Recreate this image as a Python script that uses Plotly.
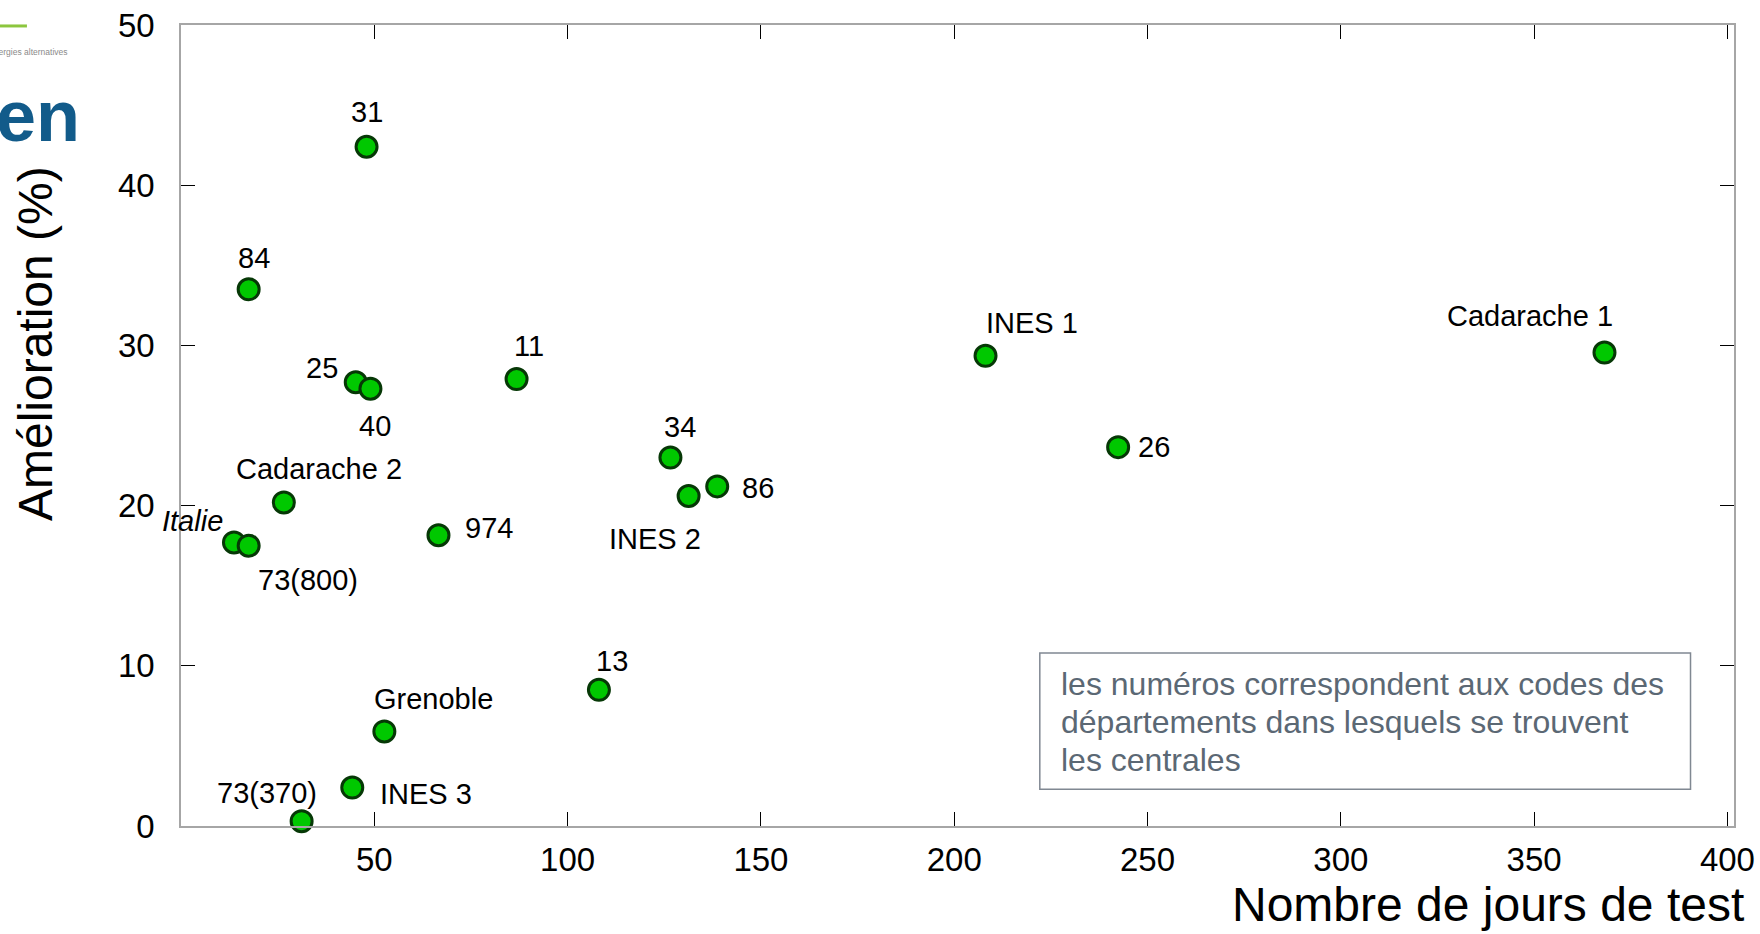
import plotly.graph_objects as go

# ---- data ----
names = ["31", "84", "25", "40", "11", "Cadarache 2", "Italie", "73(800)", "974", "13",
         "Grenoble", "INES 3", "73(370)", "34", "INES 2", "86", "INES 1", "26", "Cadarache 1"]
jours = [48.0, 17.5, 45.2, 49.0, 86.8, 26.6, 13.7, 17.5, 66.6, 108.1,
         52.6, 44.3, 31.2, 126.6, 131.3, 138.7, 208.1, 242.4, 368.2]
amelioration = [42.4, 33.5, 27.7, 27.3, 27.9, 20.2, 17.7, 17.5, 18.15, 8.5,
                5.9, 2.4, 0.3, 23.0, 20.6, 21.2, 29.35, 23.65, 29.55]
x_ticks = [50, 100, 150, 200, 250, 300, 350, 400]
y_ticks = [0, 10, 20, 30, 40, 50]
note_lines = ["les numéros correspondent aux codes des",
              "départements dans lesquels se trouvent",
              "les centrales"]

# label offsets in pixels (style only)
label_dx = [0, 5, -34, 5, 12, 35, -41, 59, 51, 13, 49, 74, -35, 10, -34, 41, 46, 36, -74]
label_dy = [35, 31, 14, -37, 33, 33, 21, -34, 7, 29, 32, -6, 28, 31, -43, -2, 33, 0, 37]

FONT = "Liberation Sans, Arial, sans-serif"

fig = go.Figure()
fig.add_trace(go.Scatter(
    x=jours, y=amelioration, mode="markers",
    marker=dict(size=21, color="#00c800", line=dict(color="#063806", width=3)),
    cliponaxis=False, hoverinfo="skip", showlegend=False,
))

annotations = []
for n, xv, yv, dx, dy in zip(names, jours, amelioration, label_dx, label_dy):
    txt = f"<i>{n}</i>" if n == "Italie" else n
    annotations.append(dict(x=xv, y=yv, xref="x", yref="y", text=txt, showarrow=False,
                            xshift=dx, yshift=dy, font=dict(family=FONT, size=29, color="#000000")))

# axis titles
annotations.append(dict(x=-0.094, y=0.6017, xref="paper", yref="paper", text="Amélioration (%)",
                        textangle=-90, showarrow=False, xanchor="center", yanchor="middle",
                        font=dict(family=FONT, size=48, color="#000000")))
annotations.append(dict(x=1.0077, y=-0.0986, xref="paper", yref="paper", text="Nombre de jours de test",
                        showarrow=False, xanchor="right", yanchor="middle",
                        font=dict(family=FONT, size=48, color="#000000")))

# note box lines
for line, yp in zip(note_lines, [0.1779, 0.1302, 0.0825]):
    annotations.append(dict(x=0.5654, y=yp, xref="paper", yref="paper", text=line, showarrow=False,
                            xanchor="left", yanchor="middle",
                            font=dict(family=FONT, size=32, color="#5b6874")))

# logo fragments (cut by the left edge, as in the reference)
annotations.append(dict(x=-0.064, y=0.886, xref="paper", yref="paper", text="<b>en</b>",
                        showarrow=False, xanchor="right", yanchor="middle",
                        font=dict(family=FONT, size=72, color="#125b8a")))
annotations.append(dict(x=-0.0715, y=0.966, xref="paper", yref="paper", text="aux énergies alternatives",
                        showarrow=False, xanchor="right", yanchor="middle",
                        font=dict(family=FONT, size=8.5, color="#8a8a8a")))

shapes = [
    dict(type="rect", xref="paper", yref="paper", x0=0.553, x1=0.972, y0=0.046, y1=0.216,
         line=dict(color="#808892", width=1.5), fillcolor="rgba(0,0,0,0)"),
    dict(type="line", xref="paper", yref="paper", x0=-0.1166, x1=-0.0992, y0=0.9988, y1=0.9988,
         line=dict(color="#8cc63e", width=3)),
]

axis_common = dict(showgrid=False, zeroline=False, showline=True, linecolor="#a6a6a6", linewidth=1.5,
                   mirror="allticks", ticks="inside", ticklen=14, tickcolor="#000000", tickwidth=1,
                   automargin=False, ticklabeloverflow="allow",
                   tickfont=dict(family=FONT, size=33, color="#000000"))

fig.update_layout(
    width=1760, height=934,
    margin=dict(l=181, r=26, t=25, b=108),
    paper_bgcolor="white", plot_bgcolor="white",
    xaxis=dict(range=[0, 401.7], tickvals=x_ticks, ticklabelstandoff=4, **axis_common),
    yaxis=dict(range=[0, 50], tickvals=y_ticks, ticklabelstandoff=18, **axis_common),
    annotations=annotations, shapes=shapes,
)

# remove the default page margin so the figure fills the window exactly
fig.write_html("out.html", config={"displayModeBar": False},
               post_script="document.body.style.margin='0';")
